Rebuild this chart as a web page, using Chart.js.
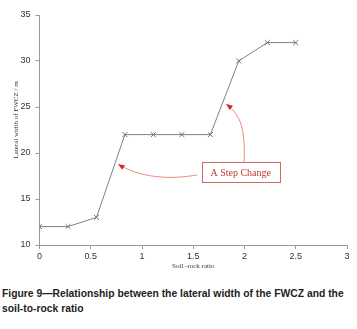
<!DOCTYPE html>
<html>
<head>
<meta charset="utf-8">
<script src="https://cdn.jsdelivr.net/npm/chart.js@4.4.0/dist/chart.umd.min.js"></script>
<style>
  body { margin: 0; background: #fff; width: 357px; height: 329px; overflow: hidden; }
  #wrap { position: relative; width: 357px; height: 270px; }
  #caption { position: absolute; left: 2px; top: 286px; font-family: "Liberation Sans", Arial, sans-serif;
    font-weight: bold; font-size: 11px; line-height: 15px; color: #222; white-space: nowrap; transform-origin: 0 0; }
</style>
</head>
<body>
<div id="wrap"><canvas id="chart" width="357" height="270"></canvas></div>
<div id="caption">Figure 9—Relationship between the lateral width of the FWCZ and the<br>soil-to-rock ratio</div>
<script>
// soil-to-rock ratio vs lateral width of the FWCZ
const ratios = [0, 0.278, 0.556, 0.833, 1.111, 1.389, 1.667, 1.944, 2.222, 2.5];
const widths = [12, 12, 13, 22, 22, 22, 22, 30, 32, 32];
const xTicks = [0, 0.5, 1, 1.5, 2, 2.5, 3];
const yTicks = [10, 15, 20, 25, 30, 35];
const yTitle = 'Lateral width of FWCZ / m';

// annotation, in data units
const noteText = 'A Step Change';
const noteBox = { x: 1.963, y: 17.9, w: 78, h: 20 };
const arrows = [
  [[1.538, 17.62], [1.274, 17.08], [0.981, 17.30], [0.767, 18.79]],
  [[1.997, 19.03], [2.007, 22.50], [1.968, 24.13], [1.821, 25.32]]
];

const annotate = {
  id: 'annotate',
  afterDatasetsDraw(chart) {
    const c = chart.ctx, xs = chart.scales.x, ys = chart.scales.y;
    const px = p => [xs.getPixelForValue(p[0]), ys.getPixelForValue(p[1])];
    c.save();
    arrows.forEach(a => {
      const [f, k1, k2, t] = a.map(px);
      c.strokeStyle = '#ee8a80';
      c.lineWidth = 1;
      c.beginPath();
      c.moveTo(f[0], f[1]);
      c.bezierCurveTo(k1[0], k1[1], k2[0], k2[1], t[0], t[1]);
      c.stroke();
      // head
      const ang = Math.atan2(t[1] - k2[1], t[0] - k2[0]);
      c.fillStyle = '#d22';
      c.beginPath();
      c.moveTo(t[0], t[1]);
      c.lineTo(t[0] - 7 * Math.cos(ang - 0.4), t[1] - 7 * Math.sin(ang - 0.4));
      c.lineTo(t[0] - 7 * Math.cos(ang + 0.4), t[1] - 7 * Math.sin(ang + 0.4));
      c.closePath();
      c.fill();
    });
    const cx = xs.getPixelForValue(noteBox.x), cy = ys.getPixelForValue(noteBox.y);
    c.fillStyle = '#fff';
    c.fillRect(cx - noteBox.w / 2, cy - noteBox.h / 2, noteBox.w, noteBox.h);
    c.strokeStyle = '#d06a60';
    c.lineWidth = 1;
    c.strokeRect(Math.round(cx - noteBox.w / 2) + 0.5, Math.round(cy - noteBox.h / 2) + 0.5, noteBox.w, noteBox.h);
    c.fillStyle = '#c8362c';
    c.font = '10px "Liberation Serif", serif';
    c.textAlign = 'center';
    c.textBaseline = 'middle';
    c.fillText(noteText, cx, cy + 1);

    // y axis title, sits a little above the middle of the axis
    c.translate(16, 120);
    c.rotate(-Math.PI / 2);
    c.fillStyle = '#333';
    c.font = '7px "Liberation Serif", serif';
    c.fillText(yTitle, 0, 0);
    c.restore();
  }
};

new Chart(document.getElementById('chart'), {
  type: 'line',
  data: {
    datasets: [{
      data: ratios.map((r, i) => ({ x: r, y: widths[i] })),
      borderColor: '#808080',
      borderWidth: 1,
      pointStyle: 'crossRot',
      pointRadius: 3.5,
      pointBorderColor: '#707070',
      pointBorderWidth: 1,
      fill: false,
      tension: 0
    }]
  },
  options: {
    responsive: false,
    animation: false,
    devicePixelRatio: 1,
    layout: { padding: { top: 15, right: 10, left: 0, bottom: 0 } },
    plugins: { legend: { display: false }, tooltip: { enabled: false } },
    scales: {
      x: {
        type: 'linear', min: 0, max: 3,
        afterBuildTicks: s => { s.ticks = xTicks.map(v => ({ value: v })); },
        afterFit: s => { s.height = 25; },
        grid: { drawOnChartArea: false, tickLength: 4, color: '#999' },
        border: { color: '#999' },
        ticks: { padding: 2, color: '#333', font: { family: 'Liberation Sans', size: 9 },
          callback: v => String(v) },
        title: { display: true, text: 'Soil -rock ratio', color: '#333', padding: { top: 2, bottom: 0 },
          font: { family: 'Liberation Serif', size: 7 } }
      },
      y: {
        min: 10, max: 35,
        afterBuildTicks: s => { s.ticks = yTicks.map(v => ({ value: v })); },
        afterFit: s => { s.width = 39.5; },
        grid: { drawOnChartArea: false, tickLength: 4, color: '#999' },
        border: { color: '#999' },
        ticks: { padding: 5, color: '#333', font: { family: 'Liberation Sans', size: 9 } }
      }
    }
  },
  plugins: [annotate]
});

// squeeze the caption to the reference width
const cap = document.getElementById('caption');
cap.style.transform = 'scaleX(' + (342 / cap.scrollWidth) + ')';
</script>
</body>
</html>
